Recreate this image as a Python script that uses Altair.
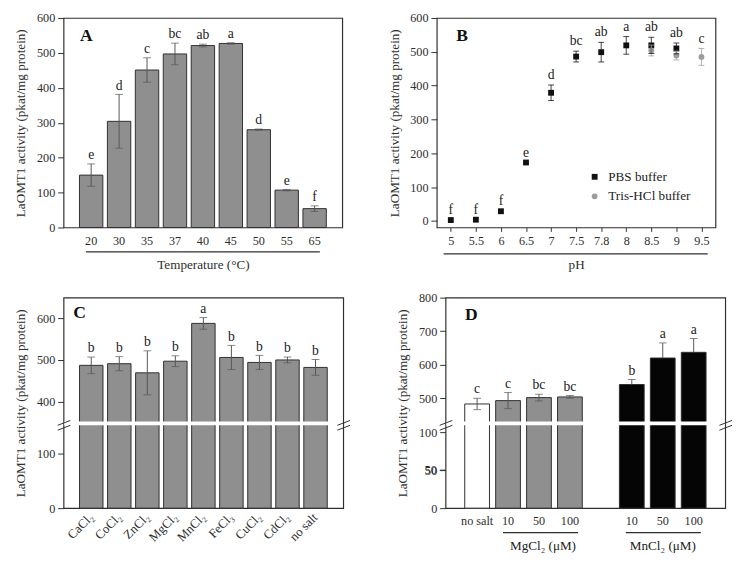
import altair as alt
import pandas as pd

FONT = "Liberation Serif"
INK = "#2e2e2e"
GRAY = "#8f8f8f"
ERR = "#555555"
YT = "LaOMT1 activity (pkat/mg protein)"

# ---------------- data ----------------
# A: temperature
temp_labels = ["20", "30", "35", "37", "40", "45", "50", "55", "65"]
temp_act = [150, 304, 451, 497, 521, 527, 280, 107, 54]
temp_err = [32, 77, 35, 31, 4, 2, 2, 2, 8]
temp_sig = ["e", "d", "c", "bc", "ab", "a", "d", "e", "f"]

# B: pH
ph_labels = ["5", "5.5", "6", "6.5", "7", "7.5", "7.8", "8", "8.5", "9", "9.5"]
pbs_ph = ["5", "5.5", "6", "6.5", "7", "7.5", "7.8", "8", "8.5", "9"]
pbs_act = [3, 4, 29, 173, 379, 486, 499, 519, 519, 510]
pbs_err = [0, 0, 0, 0, 23, 16, 29, 26, 24, 16]
tris_ph = ["8.5", "9", "9.5"]
tris_act = [504, 489, 485]
tris_err = [16, 13, 25]
ph_sig = ["f", "f", "f", "e", "d", "bc", "ab", "a", "ab", "ab", "c"]
series_names = ["PBS buffer", "Tris-HCl buffer"]

# C: salts
salt_labels = ["CaCl₂", "CoCl₂", "ZnCl₂", "MgCl₂", "MnCl₂", "FeCl₃", "CuCl₂", "CdCl₂", "no salt"]
salt_act = [487, 491, 469, 497, 588, 506, 494, 500, 482]
salt_err = [20, 17, 53, 13, 14, 29, 17, 7, 19]
salt_sig = ["b", "b", "b", "b", "a", "b", "b", "b", "b"]

# D: concentrations
conc_domain = ["no salt", "Mg 10", "Mg 50", "Mg 100", " ", "Mn 10", "Mn 50", "Mn 100"]
conc_keys = ["no salt", "Mg 10", "Mg 50", "Mg 100", "Mn 10", "Mn 50", "Mn 100"]
conc_group = ["none", "MgCl2", "MgCl2", "MgCl2", "MnCl2", "MnCl2", "MnCl2"]
conc_act = [483, 493, 502, 504, 541, 620, 637]
conc_err = [17, 24, 10, 4, 15, 45, 41]
conc_sig = ["c", "c", "bc", "bc", "b", "a", "a"]
group_names = ["none", "MgCl2", "MnCl2"]
group_fill = ["white", GRAY, "#050505"]
group_titles = ["MgCl₂ (μM)", "MnCl₂ (μM)"]
d_ticks = [800, 700, 600, 500, 100, 50, 0]
d_extra_tick = [50]

W1, H1 = 286, 215
W2, H2 = 287, 216


def yaxis(values):
    return alt.Axis(values=values, tickSize=6, labelPadding=3, titlePadding=9,
                    domain=False, grid=False, labelOverlap=False, labelFlush=False,
                    labelBound=False)


def deco():
    return alt.Chart(pd.DataFrame({"k": [0]}))


def panel_label(letter, x, y):
    return deco().mark_text(font=FONT, fontSize=18, fontWeight="bold", color="#111",
                            align="left", baseline="middle").encode(
        x=alt.value(x), y=alt.value(y), text=alt.value(letter))


def hline(x1, x2, y):
    return deco().mark_rule(color=INK, strokeWidth=1.3).encode(
        x=alt.value(x1), x2=alt.value(x2), y=alt.value(y))


def seg(x1, y1, x2, y2):
    return deco().mark_rule(color=INK, strokeWidth=1).encode(
        x=alt.value(x1), y=alt.value(y1), x2=alt.value(x2), y2=alt.value(y2))


def break_marks(w, yc):
    out = []
    for x0 in (0, w):
        out.append(seg(x0 - 6, yc + 1, x0 + 7, yc - 4))
        out.append(seg(x0 - 6, yc + 6, x0 + 7, yc + 1))
    return out


def break_band(w, lo, hi, yax):
    return deco().mark_rect(color="white").encode(
        x=alt.value(0.8), x2=alt.value(w - 0.8),
        y=alt.Y(datum=lo, type="quantitative", title=YT, axis=yax), y2=alt.datum(hi))


def err_layers(base, x, yax, cap=8, color=ERR, low="lo"):
    out = [
        base.mark_rule(color=color, strokeWidth=1).encode(
            x=x, y=alt.Y(f"{low}:Q", title=YT, axis=yax), y2="hi:Q"),
        base.mark_tick(orient="horizontal", size=cap, thickness=1, color=color).encode(
            x=x, y=alt.Y("hi:Q", title=YT, axis=yax)),
    ]
    if low == "lo":
        out.append(base.mark_tick(orient="horizontal", size=cap, thickness=1, color=color).encode(
            x=x, y=alt.Y("lo:Q", title=YT, axis=yax)))
    return out


def sig_layer(base, x, yax, field="hi", dy=-5):
    return base.mark_text(font=FONT, fontSize=14, color="#222", baseline="alphabetic", dy=dy).encode(
        x=x, y=alt.Y(f"{field}:Q", title=YT, axis=yax), text="sig:N")


# ---------------- Panel A ----------------
dfA = pd.DataFrame({"temp": temp_labels, "act": temp_act, "err": temp_err, "sig": temp_sig})
dfA["lo"] = dfA["act"] - dfA["err"]
dfA["hi"] = dfA["act"] + dfA["err"]
axA = yaxis([0, 100, 200, 300, 400, 500, 600])
xA = alt.X("temp:N", sort=temp_labels, title="Temperature (°C)",
           scale=alt.Scale(domain=temp_labels, paddingInner=0.163, paddingOuter=0.57),
           axis=alt.Axis(labelAngle=0, ticks=False, labelPadding=7, titlePadding=12, domain=False))
yA = alt.Y("act:Q", title=YT, scale=alt.Scale(domain=[0, 600], nice=False, zero=False), axis=axA)
bA = alt.Chart(dfA)
A = alt.layer(
    bA.mark_bar(fill=GRAY, stroke=INK, strokeWidth=1).encode(x=xA, y=yA),
    *err_layers(bA, xA, axA),
    sig_layer(bA, xA, axA),
    hline(23, 263, H1 + 25),
    panel_label("A", 17, 19),
).properties(width=W1, height=H1)

# ---------------- Panel B ----------------
dfP = pd.DataFrame({"ph": pbs_ph, "act": pbs_act, "err": pbs_err, "series": series_names[0]})
dfT = pd.DataFrame({"ph": tris_ph, "act": tris_act, "err": tris_err, "series": series_names[1]})
dfB = pd.concat([dfP, dfT], ignore_index=True)
dfB["lo"] = dfB["act"] - dfB["err"]
dfB["hi"] = dfB["act"] + dfB["err"]
dfBe = dfB[dfB["err"] > 0]
tops = dfB.groupby("ph")["hi"].max()
dfBs = pd.DataFrame({"ph": ph_labels, "sig": ph_sig})
dfBs["hi"] = dfBs["ph"].map(tops)

axB = yaxis([0, 100, 200, 300, 400, 500, 600])
xB = alt.X("ph:N", sort=ph_labels, title="pH",
           scale=alt.Scale(type="point", domain=ph_labels, padding=0.56),
           axis=alt.Axis(labelAngle=0, tickSize=4, labelPadding=3, titlePadding=12, domain=False))
yB = alt.Y("act:Q", title=YT, scale=alt.Scale(domain=[-19, 600], nice=False, zero=False), axis=axB)
colB = alt.Color("series:N", scale=alt.Scale(domain=series_names, range=["#111111", "#9c9c9c"]), legend=None)
shpB = alt.Shape("series:N", scale=alt.Scale(domain=series_names, range=["square", "circle"]), legend=None)

bB = alt.Chart(dfB)
bBe = alt.Chart(dfBe)
legB = alt.Chart(pd.DataFrame({"series": series_names}))
B = alt.layer(
    bB.mark_point(filled=True, opacity=1, size=36).encode(x=xB, y=yB, color=colB, shape=shpB),
    bBe.mark_rule(strokeWidth=1, opacity=0.8).encode(
        x=xB, y=alt.Y("lo:Q", title=YT, axis=axB), y2="hi:Q", color=colB),
    bBe.mark_tick(orient="horizontal", size=6, thickness=1, opacity=0.8).encode(
        x=xB, y=alt.Y("lo:Q", title=YT, axis=axB), color=colB),
    bBe.mark_tick(orient="horizontal", size=6, thickness=1, opacity=0.8).encode(
        x=xB, y=alt.Y("hi:Q", title=YT, axis=axB), color=colB),
    sig_layer(alt.Chart(dfBs), xB, axB, dy=-6),
    # legend
    legB.transform_filter(alt.datum.series == series_names[0]).mark_point(
        filled=True, opacity=1, size=36, shape="square", color="#111111").encode(
        x=alt.value(162), y=alt.value(163)),
    legB.transform_filter(alt.datum.series == series_names[1]).mark_point(
        filled=True, opacity=1, size=36, shape="circle", color="#9c9c9c").encode(
        x=alt.value(162), y=alt.value(183)),
    legB.transform_filter(alt.datum.series == series_names[0]).mark_text(
        font=FONT, fontSize=13.5, color="#222", align="left", baseline="middle").encode(
        x=alt.value(176), y=alt.value(163), text="series:N"),
    legB.transform_filter(alt.datum.series == series_names[1]).mark_text(
        font=FONT, fontSize=13.5, color="#222", align="left", baseline="middle").encode(
        x=alt.value(176), y=alt.value(183), text="series:N"),
    hline(7, 278, H1 + 27),
    panel_label("B", 20, 19),
).properties(width=W1, height=H1)

# ---------------- Panel C ----------------
dfC = pd.DataFrame({"salt": salt_labels, "act": salt_act, "err": salt_err, "sig": salt_sig})
dfC["lo"] = dfC["act"] - dfC["err"]
dfC["hi"] = dfC["act"] + dfC["err"]
axC = yaxis([600, 500, 400, 100, 0])
xC = alt.X("salt:N", sort=salt_labels, title=None,
           scale=alt.Scale(domain=salt_labels, paddingInner=0.163, paddingOuter=0.57),
           axis=alt.Axis(labelAngle=-45, labelAlign="right", labelBaseline="middle",
                         ticks=False, labelPadding=7, domain=False, labelFontSize=13))
yC = alt.Y("act:Q", title=YT,
           scale=alt.Scale(domain=[0, 151, 352, 650], range=[H2, 131, 127, 0], nice=False, zero=False),
           axis=axC)
bC = alt.Chart(dfC)
C = alt.layer(
    bC.mark_bar(fill=GRAY, stroke=INK, strokeWidth=1).encode(x=xC, y=yC, y2=alt.datum(0)),
    *err_layers(bC, xC, axC),
    sig_layer(bC, xC, axC),
    break_band(W2, 151, 352, axC),
    *break_marks(W2, 130),
    panel_label("C", 10, 16),
).properties(width=W2, height=H2)

# ---------------- Panel D ----------------
dfD = pd.DataFrame({"conc": conc_keys, "group": conc_group, "act": conc_act,
                    "err": conc_err, "sig": conc_sig})
dfD["lo"] = dfD["act"] - dfD["err"]
dfD["hi"] = dfD["act"] + dfD["err"]
axD = yaxis(d_ticks)
xD = alt.X("conc:N", sort=conc_domain, title=None,
           scale=alt.Scale(domain=conc_domain, paddingInner=0.2, paddingOuter=0.62),
           axis=alt.Axis(labelAngle=0, ticks=False, labelPadding=7, domain=False,
                         labelExpr="replace(replace(datum.label, 'Mg ', ''), 'Mn ', '')"))
yD = alt.Y("act:Q", title=YT,
           scale=alt.Scale(domain=[0, 50, 109, 431, 800], range=[H2, 177, 131, 127, 0],
                           nice=False, zero=False),
           axis=axD)
fillD = alt.Fill("group:N", scale=alt.Scale(domain=group_names, range=group_fill), legend=None)
bD = alt.Chart(dfD)
bDmn = bD.transform_filter(alt.datum.group == "MnCl2")
bDother = bD.transform_filter(alt.datum.group != "MnCl2")
dfDt = pd.DataFrame({"tv": d_extra_tick})
dfDt["tl"] = dfDt["tv"].astype(str)
bDt = alt.Chart(dfDt)
D = alt.layer(
    bD.mark_bar(stroke=INK, strokeWidth=1).encode(x=xD, y=yD, y2=alt.datum(0), fill=fillD),
    *err_layers(bDother, xD, axD),
    *err_layers(bDmn, xD, axD, low="act"),
    sig_layer(bD, xD, axD),
    break_band(W2, 109, 431, axD),
    *break_marks(W2, 130),
    bDt.mark_rule(color=INK, strokeWidth=1).encode(
        x=alt.value(-6), x2=alt.value(0), y=alt.Y("tv:Q", title=YT, axis=axD)),
    bDt.mark_text(font=FONT, fontSize=12.5, color=INK, align="right", baseline="middle").encode(
        x=alt.value(-9), y=alt.Y("tv:Q", title=YT, axis=axD), text="tl:N"),
    hline(59, 136, H2 + 25),
    hline(185, 262, H2 + 25),
    deco().mark_text(font=FONT, fontSize=13.5, color="#222", baseline="middle").encode(
        x=alt.value(100), y=alt.value(H2 + 39), text=alt.value(group_titles[0])),
    deco().mark_text(font=FONT, fontSize=13.5, color="#222", baseline="middle").encode(
        x=alt.value(223), y=alt.value(H2 + 39), text=alt.value(group_titles[1])),
    panel_label("D", 20, 18),
).properties(width=W2, height=H2)

chart = alt.vconcat(
    alt.hconcat(A, B, spacing=44),
    alt.hconcat(C, D, spacing=44),
    spacing=19,
).resolve_scale(
    color="independent", fill="independent", shape="independent",
).properties(
    padding={"left": 5, "top": -4, "right": 0, "bottom": 0},
    background="white",
).configure_view(
    stroke=INK, strokeWidth=1.2,
).configure_axis(
    labelFont=FONT, titleFont=FONT, labelFontSize=12.5, titleFontSize=13.5,
    labelColor=INK, titleColor=INK, tickColor=INK, titleFontWeight="normal", grid=False,
    labelOverlap=False,
)

chart.save("out.html", embed_options={"renderer": "svg", "actions": False})
